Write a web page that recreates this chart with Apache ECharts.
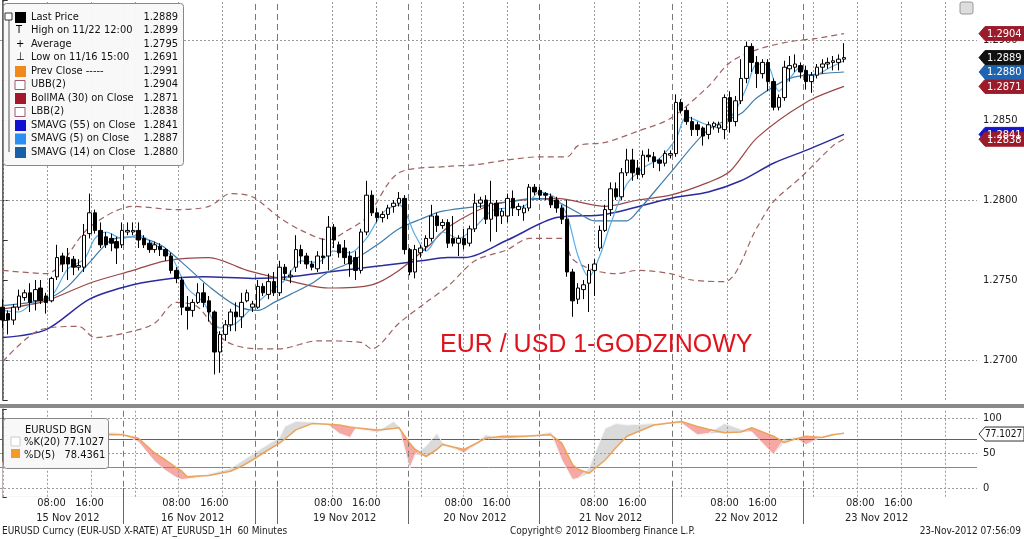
<!DOCTYPE html>
<html><head><meta charset="utf-8">
<script src="https://cdn.jsdelivr.net/npm/echarts@6/dist/echarts.min.js"></script>
<style>html,body{margin:0;padding:0;background:#fff}#c{width:1024px;height:539px}</style>
</head><body><div id="c"></div>
<script>
// ---- data ----
// candles: [open, close, low, high], hourly
const candles = [
[1.2733,1.2725,1.2720,1.2738],[1.2729,1.2725,1.2716,1.2731],[1.2725,1.2733,1.2722,1.2735],[1.2733,1.2740,1.2731,1.2744],
[1.2739,1.2742,1.2737,1.2744],[1.2742,1.2736,1.2730,1.2748],[1.2737,1.2744,1.2731,1.2750],[1.2745,1.2737,1.2735,1.2750],
[1.2740,1.2736,1.2729,1.2742],[1.2737,1.2751,1.2736,1.2752],[1.2752,1.2764,1.2750,1.2772],[1.2765,1.2760,1.2755,1.2767],
[1.2764,1.2760,1.2750,1.2770],[1.2763,1.2758,1.2753,1.2765],[1.2758,1.2759,1.2756,1.2763],[1.2758,1.2778,1.2755,1.2785],
[1.2779,1.2792,1.2776,1.2804],[1.2792,1.2781,1.2779,1.2794],[1.2781,1.2772,1.2770,1.2786],[1.2777,1.2772,1.2770,1.2780],
[1.2776,1.2773,1.2768,1.2779],[1.2774,1.2770,1.2760,1.2777],[1.2772,1.2781,1.2770,1.2786],[1.2780,1.2781,1.2778,1.2786],
[1.2780,1.2781,1.2778,1.2786],[1.2781,1.2775,1.2770,1.2786],[1.2776,1.2772,1.2770,1.2778],[1.2773,1.2769,1.2767,1.2775],
[1.2769,1.2772,1.2767,1.2774],[1.2771,1.2769,1.2765,1.2773],[1.2769,1.2765,1.2762,1.2770],[1.2765,1.2756,1.2754,1.2767],
[1.2756,1.2751,1.2748,1.2758],[1.2750,1.2733,1.2728,1.2752],[1.2733,1.2731,1.2719,1.2740],[1.2731,1.2736,1.2727,1.2738],
[1.2736,1.2742,1.2735,1.2748],[1.2742,1.2736,1.2733,1.2748],[1.2737,1.2730,1.2724,1.2740],[1.2730,1.2705,1.2691,1.2731],
[1.2705,1.2716,1.2692,1.2718],[1.2716,1.2722,1.2712,1.2725],[1.2722,1.2730,1.2718,1.2732],[1.2730,1.2727,1.2718,1.2736],
[1.2727,1.2736,1.2720,1.2742],[1.2737,1.2742,1.2736,1.2744],[1.2733,1.2735,1.2730,1.2737],[1.2733,1.2746,1.2732,1.2750],
[1.2746,1.2742,1.2740,1.2748],[1.2741,1.2749,1.2738,1.2754],[1.2749,1.2742,1.2740,1.2755],[1.2742,1.2758,1.2740,1.2762],
[1.2758,1.2754,1.2750,1.2760],[1.2752,1.2753,1.2748,1.2756],[1.2758,1.2769,1.2755,1.2778],[1.2769,1.2765,1.2760,1.2772],
[1.2765,1.2760,1.2757,1.2767],[1.2760,1.2758,1.2756,1.2762],[1.2757,1.2765,1.2755,1.2768],[1.2765,1.2764,1.2760,1.2776],
[1.2765,1.2783,1.2756,1.2790],[1.2783,1.2775,1.2770,1.2785],[1.2772,1.2767,1.2764,1.2774],[1.2770,1.2764,1.2760,1.2775],
[1.2765,1.2760,1.2752,1.2768],[1.2764,1.2756,1.2750,1.2768],[1.2756,1.2780,1.2754,1.2782],[1.2780,1.2803,1.2778,1.2812],
[1.2803,1.2792,1.2790,1.2806],[1.2792,1.2789,1.2786,1.2795],[1.2789,1.2791,1.2786,1.2793],[1.2791,1.2795,1.2788,1.2797],
[1.2796,1.2798,1.2792,1.2800],[1.2798,1.2801,1.2796,1.2805],[1.2801,1.2769,1.2766,1.2803],[1.2769,1.2755,1.2753,1.2770],
[1.2755,1.2769,1.2751,1.2772],[1.2767,1.2770,1.2764,1.2772],[1.2771,1.2776,1.2768,1.2778],[1.2776,1.2790,1.2774,1.2797],
[1.2790,1.2784,1.2780,1.2792],[1.2784,1.2786,1.2782,1.2788],[1.2786,1.2773,1.2770,1.2788],[1.2776,1.2773,1.2771,1.2790],
[1.2773,1.2776,1.2765,1.2778],[1.2776,1.2772,1.2769,1.2782],[1.2773,1.2782,1.2771,1.2784],[1.2782,1.2798,1.2780,1.2804],
[1.2798,1.2800,1.2795,1.2802],[1.2800,1.2788,1.2785,1.2803],[1.2788,1.2798,1.2774,1.2812],[1.2798,1.2790,1.2780,1.2800],
[1.2790,1.2793,1.2785,1.2795],[1.2790,1.2801,1.2786,1.2804],[1.2801,1.2795,1.2790,1.2806],[1.2794,1.2796,1.2790,1.2798],
[1.2792,1.2795,1.2787,1.2797],[1.2795,1.2808,1.2793,1.2810],[1.2808,1.2805,1.2803,1.2810],[1.2806,1.2803,1.2800,1.2808],
[1.2804,1.2803,1.2800,1.2805],[1.2802,1.2797,1.2795,1.2804],[1.2800,1.2795,1.2792,1.2802],[1.2795,1.2788,1.2785,1.2797],
[1.2788,1.2755,1.2752,1.2800],[1.2755,1.2737,1.2727,1.2757],[1.2738,1.2745,1.2735,1.2748],[1.2744,1.2747,1.2738,1.2750],
[1.2748,1.2756,1.2730,1.2760],[1.2756,1.2760,1.2740,1.2763],[1.2770,1.2781,1.2768,1.2784],[1.2781,1.2794,1.2780,1.2797],
[1.2794,1.2807,1.2790,1.2811],[1.2807,1.2802,1.2800,1.2811],[1.2802,1.2817,1.2800,1.2820],[1.2817,1.2825,1.2815,1.2832],
[1.2825,1.2817,1.2812,1.2832],[1.2820,1.2816,1.2813,1.2825],[1.2816,1.2828,1.2814,1.2831],[1.2828,1.2827,1.2824,1.2832],
[1.2827,1.2824,1.2820,1.2830],[1.2825,1.2823,1.2818,1.2826],[1.2823,1.2829,1.2821,1.2831],[1.2828,1.2829,1.2826,1.2831],
[1.2829,1.2861,1.2827,1.2866],[1.2861,1.2856,1.2854,1.2863],[1.2856,1.2849,1.2847,1.2858],[1.2849,1.2844,1.2840,1.2852],
[1.2847,1.2844,1.2840,1.2849],[1.2845,1.2840,1.2834,1.2846],[1.2841,1.2847,1.2838,1.2849],[1.2846,1.2848,1.2844,1.2849],
[1.2845,1.2847,1.2842,1.2849],[1.2844,1.2864,1.2838,1.2866],[1.2864,1.2849,1.2842,1.2868],[1.2849,1.2862,1.2846,1.2865],
[1.2862,1.2876,1.2860,1.2888],[1.2876,1.2896,1.2873,1.2899],[1.2896,1.2886,1.2880,1.2898],[1.2886,1.2879,1.2870,1.2890],
[1.2879,1.2886,1.2876,1.2888],[1.2886,1.2874,1.2868,1.2888],[1.2874,1.2858,1.2856,1.2876],[1.2858,1.2864,1.2856,1.2866],
[1.2864,1.2883,1.2862,1.2887],[1.2882,1.2884,1.2874,1.2890],[1.2883,1.2885,1.2880,1.2891],[1.2884,1.2880,1.2876,1.2886],
[1.2881,1.2874,1.2869,1.2884],[1.2874,1.2878,1.2867,1.2880],[1.2878,1.2883,1.2876,1.2885],[1.2883,1.2885,1.2879,1.2888],
[1.2885,1.2886,1.2882,1.2889],[1.2886,1.2887,1.2881,1.2890],[1.2886,1.2888,1.2881,1.2891],[1.2888,1.2889,1.2886,1.2898]
];
const slotCount = 180;
const sma55 = [[0,1.2714],[8,1.2719],[16,1.2738],[24,1.2747],[31,1.2751],[37,1.2752],[46,1.2751],[53,1.2752],[60,1.2755],[70,1.2759],[77,1.2762],[82,1.2764],[85,1.2764],[93,1.2775],[102,1.2789],[111,1.2791],[123,1.2801],[130,1.2805],[136,1.2812],[142,1.2823],[148,1.2831],[155,1.2841]];
const bollMA = [[0,1.2732],[8,1.2737],[16,1.2748],[24,1.2756],[30,1.2762],[38,1.2764],[45,1.2756],[51,1.2751],[60,1.2745],[68,1.2747],[73,1.2756],[79,1.2773],[82,1.2783],[90,1.2797],[96,1.2800],[102,1.2801],[111,1.2796],[117,1.2800],[123,1.2803],[130,1.2811],[134,1.2818],[139,1.2839],[148,1.2861],[155,1.2871]];
const ubb = [[0,1.2756],[8,1.2754],[16,1.2783],[24,1.2796],[32,1.2794],[38,1.2796],[42,1.2804],[46,1.2802],[51,1.2789],[55,1.2781],[60,1.2775],[63,1.2780],[67,1.2789],[73,1.2817],[82,1.2821],[87,1.2822],[93,1.2825],[99,1.2827],[104,1.2827],[106,1.2834],[111,1.2836],[117,1.2843],[123,1.2851],[130,1.2871],[134,1.2886],[139,1.2894],[145,1.2899],[150,1.2901],[155,1.2904]];
const lbb = [[0,1.2699],[7,1.2719],[14,1.2721],[17,1.2714],[24,1.2718],[28,1.2723],[32,1.2736],[36,1.2733],[41,1.2712],[47,1.2707],[51,1.2707],[58,1.2712],[66,1.2711],[68,1.2707],[73,1.2723],[78,1.2736],[82,1.2746],[87,1.2762],[93,1.2769],[97,1.2776],[103,1.2776],[105,1.2763],[109,1.2756],[113,1.2754],[117,1.2756],[123,1.2754],[127,1.2750],[133,1.2749],[139,1.2783],[142,1.2799],[147,1.2814],[153,1.2834],[155,1.2838]];
const sma14 = [[0,1.2734],[8,1.2738],[12,1.2746],[16,1.2761],[20,1.2775],[24,1.2777],[29,1.2772],[33,1.2761],[38,1.2746],[43,1.2734],[47,1.2731],[50,1.2736],[53,1.2741],[57,1.2748],[60,1.2755],[64,1.2761],[69,1.2772],[73,1.2782],[77,1.2788],[81,1.2793],[90,1.2797],[98,1.2801],[102,1.2799],[106,1.2792],[109,1.2787],[115,1.2787],[117,1.2793],[123,1.2817],[130,1.2844],[136,1.2854],[139,1.2864],[145,1.2876],[151,1.2879],[155,1.2880]];
const sma5 = [[0,1.2731],[3,1.2730],[6,1.2737],[9,1.2740],[12,1.2757],[15,1.2763],[17,1.2776],[19,1.2780],[22,1.2776],[25,1.2778],[28,1.2772],[31,1.2765],[34,1.2745],[37,1.2736],[40,1.2720],[43,1.2723],[46,1.2733],[49,1.2742],[52,1.2750],[55,1.2762],[58,1.2761],[61,1.2768],[64,1.2767],[67,1.2776],[70,1.2792],[73,1.2797],[76,1.2778],[78,1.2768],[81,1.2780],[84,1.2776],[87,1.2783],[90,1.2793],[93,1.2795],[96,1.2796],[99,1.2805],[102,1.2801],[104,1.2790],[106,1.2765],[108,1.2752],[110,1.2765],[112,1.2785],[115,1.2810],[118,1.2820],[121,1.2826],[124,1.2838],[126,1.2852],[129,1.2848],[132,1.2845],[135,1.2856],[137,1.2870],[139,1.2885],[141,1.2884],[143,1.2868],[145,1.2876],[147,1.2883],[149,1.2877],[152,1.2882],[155,1.2887]];
const stochIdx = [0,4,7,9,11,13,15,19,22,25,28,30,32,33,34,36,38,42,44,46,48,51,52,54,57,60,62,64,65,69,72,73,75,76,78,80,81,85,89,92,96,101,103,105,106,108,111,113,115,120,125,128,130,133,136,138,142,144,146,148,151,153,155];
const stochD = [38,39,40,45,50,57,64,76,76,71,50,40,29,24,16,17,18,24,31,40,50,64,70,83,92,91,90,87,86,83,85,86,64,55,45,55,62,55,71,74,74,76,64,33,27,21,40,58,74,90,95,88,84,79,80,86,74,65,70,74,72,76,78.4];
const stochK = [36,42,46,55,56,63,70,80,78,66,38,25,15,12,13,15,20,28,38,48,58,72,88,95,94,90,78,72,85,80,95,88,28,48,60,78,65,50,76,70,72,80,40,12,14,28,85,92,90,92,93,76,78,92,84,80,48,70,72,62,74,78,77.1];
const priceTicks = [1.2700,1.2750,1.2800,1.2850,1.2900];
const gridIdx = [0.05,8.2,16.3,24.4,32.3,40.4,60.8,68.9,77.2,84.8,92.9,108.9,117.2,125.1,133.4,141.3,149.4,157.5,165.6,173.7];
const dayIdx = [22.2,46.6,50.5,74.8,98.9,123.3,147.4];
const hourLabels = {9:'08:00',16:'16:00',32:'08:00',39:'16:00',60:'08:00',67:'16:00',84:'08:00',91:'16:00',109:'08:00',116:'16:00',133:'08:00',140:'16:00',158:'08:00',165:'16:00'};
const dateLabels = {12:'15 Nov 2012',35:'16 Nov 2012',63:'19 Nov 2012',87:'20 Nov 2012',112:'21 Nov 2012',137:'22 Nov 2012',161:'23 Nov 2012'};
const flags = [[1.2841,'#1515c8'],[1.2838,'#9b1b2a'],[1.2871,'#9b1b2a'],[1.2880,'#1f64b0'],[1.2889,'#111111'],[1.2904,'#9b1b2a']];
const stochFlag = 77.1027;
const legendRows = [
 ['Last Price','1.2889','#000','sq'],['High on 11/22 12:00','1.2899','#000','T'],['Average','1.2795','#000','+'],
 ['Low on 11/16 15:00','1.2691','#000','L'],['Prev Close -----','1.2991','#f08a1c','sq'],['UBB(2)','1.2904','#a05a6a','box'],
 ['BollMA (30) on Close','1.2871','#a0182a','sq'],['LBB(2)','1.2838','#a05a6a','box'],['SMAVG (55) on Close','1.2841','#1010d0','sq'],
 ['SMAVG (5) on Close','1.2887','#2a8ff0','sq'],['SMAVG (14) on Close','1.2880','#1a5ea8','sq']];

// ---- chart ----
const FONT = 'DejaVu Sans Condensed';
const cats = Array.from({length: slotCount}, (_, i) => String(i));
const W = 977;
const kPts = stochIdx.map((x, j) => [x, stochK[j]]);
const dPts = stochIdx.map((x, j) => [x, stochD[j]]);
const minPts = stochIdx.map((x, j) => [x, Math.min(stochK[j], stochD[j])]);
const vLines = (color) => [
  ...gridIdx.map(v => ({xAxis: v, lineStyle: {color: '#9a9a9a', type: [2, 2], width: 1}})),
  ...dayIdx.map(v => ({xAxis: v, lineStyle: {color: color, type: [6, 4], width: 1}}))
];
const line = (data, color, width, dashed) => ({
  type: 'line', xAxisIndex: 1, yAxisIndex: 0, data, symbol: 'none', silent: true, smooth: 0.3,
  lineStyle: {color, width, type: dashed ? [6, 4] : 'solid'}, z: 3
});
const isMajor = v => Math.abs(Math.round(v / 0.005) * 0.005 - v) < 1e-7;

const graphic = [];
graphic.push({type:'rect', shape:{x:3.5,y:3.5,width:180,height:162,r:3}, style:{fill:'rgba(248,248,248,0.97)', stroke:'#888', lineWidth:1}, z:50});
legendRows.forEach((r, j) => {
  const y = 17 + j * 13.5;
  let icon;
  if (r[3] === 'sq') icon = {type:'rect', shape:{x:15,y:y-5,width:11,height:11}, style:{fill:r[2]}};
  else if (r[3] === 'box') icon = {type:'rect', shape:{x:15,y:y-4,width:10,height:9}, style:{fill:'#fff', stroke:r[2], lineWidth:1}};
  else icon = {type:'text', style:{x:16,y:y,text:r[3]==='T'?'T':(r[3]==='L'?'⊥':'+'), font:'11px '+FONT, fill:'#000', verticalAlign:'middle'}};
  icon.z = 51; graphic.push(icon);
  graphic.push({type:'text', z:51, style:{x:31, y:y, text:r[0], font:'11px '+FONT, fill:'#111', verticalAlign:'middle'}});
  graphic.push({type:'text', z:51, style:{x:178, y:y, text:r[1], font:'11px '+FONT, fill:'#111', align:'right', verticalAlign:'middle'}});
});
graphic.push({type:'line', z:51, shape:{x1:9,y1:13,x2:9,y2:152}, style:{stroke:'#555', lineWidth:1}});
graphic.push({type:'rect', z:51, shape:{x:5,y:13,width:7,height:7}, style:{fill:'#fff', stroke:'#333'}});
graphic.push({type:'rect', shape:{x:3.5,y:418.5,width:105,height:50,r:3}, style:{fill:'rgba(248,248,248,0.97)', stroke:'#888'}, z:50});
graphic.push({type:'text', z:51, style:{x:25,y:430,text:'EURUSD BGN',font:'11px '+FONT,fill:'#111',verticalAlign:'middle'}});
graphic.push({type:'rect', z:51, shape:{x:11,y:437,width:9,height:9}, style:{fill:'#fff',stroke:'#ccc'}});
graphic.push({type:'text', z:51, style:{x:24,y:442,text:'%K(20) 77.1027',font:'11px '+FONT,fill:'#111',verticalAlign:'middle'}});
graphic.push({type:'rect', z:51, shape:{x:11,y:449,width:9,height:9}, style:{fill:'#f39a2a'}});
graphic.push({type:'text', z:51, style:{x:24,y:455,text:'%D(5)   78.4361',font:'11px '+FONT,fill:'#111',verticalAlign:'middle'}});
graphic.push({type:'rect', shape:{x:0,y:404,width:1024,height:4}, style:{fill:'#8a8a8a'}, z:40});
graphic.push({type:'text', style:{x:440,y:345,text:'EUR / USD 1-GODZINOWY',font:'25px "Liberation Sans"',fill:'#e0141e',verticalAlign:'middle'}, z:30});
graphic.push({type:'rect', shape:{x:960,y:2,width:13,height:12,r:2}, style:{fill:'#ddd',stroke:'#999'}, z:30});
graphic.push({type:'text', style:{x:2,y:531,text:'EURUSD Curncy (EUR-USD X-RATE) AT_EURUSD_1H  60 Minutes',font:'10px '+FONT,fill:'#222',verticalAlign:'middle'}});
graphic.push({type:'text', style:{x:510,y:531,text:'Copyright© 2012 Bloomberg Finance L.P.',font:'10px '+FONT,fill:'#222',verticalAlign:'middle'}});
graphic.push({type:'text', style:{x:1021,y:531,text:'23-Nov-2012 07:56:09',font:'10px '+FONT,fill:'#222',align:'right',verticalAlign:'middle'}});

const option = {
  animation: false,
  backgroundColor: '#fff',
  textStyle: {fontFamily: FONT},
  grid: [
    {left: 0, top: 0, width: W, height: 400},
    {left: 0, top: 409.25, width: W, height: 87.5},
    {left: 0, top: 492, width: W, height: 1},
    {left: 0, top: 488, width: W, height: 36}
  ],
  xAxis: [
    {type:'category', gridIndex:0, data:cats, show:false},
    {type:'value', gridIndex:0, min:-0.5, max:slotCount-0.5, show:false},
    {type:'value', gridIndex:1, min:-0.5, max:slotCount-0.5, show:false},
    {type:'category', gridIndex:2, data:cats, position:'bottom', axisLine:{show:false}, axisTick:{show:false},
     axisLabel:{interval:(i)=>hourLabels[i]!==undefined, formatter:(v)=>hourLabels[v]||'', fontSize:11, color:'#222', margin:5}},
    {type:'category', gridIndex:2, data:cats, position:'bottom', offset:15, axisLine:{show:false}, axisTick:{show:false},
     axisLabel:{interval:(i)=>dateLabels[i]!==undefined, formatter:(v)=>dateLabels[v]||'', fontSize:11, color:'#222', margin:5}},
    {type:'value', gridIndex:3, min:-0.5, max:slotCount-0.5, show:false}
  ],
  yAxis: [
    {type:'value', gridIndex:0, position:'right', min:1.2675, max:1.2925, interval:0.0025, scale:true,
     splitLine:{show:false}, axisLine:{show:true, lineStyle:{color:'#333', width:1.5}},
     axisTick:{show:true, length:5, lineStyle:{color:'#333'}},
     axisLabel:{formatter:(v)=>isMajor(v)?v.toFixed(4):'', color:'#222', fontSize:11, margin:6}},
    {type:'value', gridIndex:1, position:'right', min:-12.5, max:112.5, interval:12.5,
     splitLine:{show:false}, axisLine:{show:true, lineStyle:{color:'#333', width:1.5}},
     axisTick:{show:true, length:4, lineStyle:{color:'#333'}},
     axisLabel:{formatter:(v)=>(v===0||v===50||v===100)?String(v):'', color:'#222', fontSize:11, margin:6}},
    {type:'value', gridIndex:2, show:false},
    {type:'value', gridIndex:3, show:false, min:0, max:1}
  ],
  graphic,
  series: [
    {type:'candlestick', xAxisIndex:0, yAxisIndex:0, data:candles, barWidth:4, z:5,
     itemStyle:{color:'#fff', color0:'#000', borderColor:'#000', borderColor0:'#000', borderWidth:1}},
    Object.assign(line(sma55, '#2b2ba0', 1.5), {
      markLine:{symbol:'none', silent:true, label:{show:false}, z:1, data:[
        ...vLines('#777'),
        ...priceTicks.map(v => ({yAxis:v, lineStyle:{color:'#9a9a9a', type:[2,2], width:1}}))
      ]}}),
    line(bollMA, '#9a4646', 1.2),
    line(ubb, '#a06262', 1.2, true),
    line(lbb, '#a06262', 1.2, true),
    line(sma14, '#3f7cab', 1.2),
    line(sma5, '#5aaeea', 1.2),
    {type:'line', xAxisIndex:2, yAxisIndex:1, data:dPts, symbol:'none', lineStyle:{opacity:0}, areaStyle:{color:'#f6a9a4', opacity:1, origin:'start'}, silent:true, z:1},
    {type:'line', xAxisIndex:2, yAxisIndex:1, data:kPts, symbol:'none', lineStyle:{opacity:0}, areaStyle:{color:'#dadada', opacity:1, origin:'start'}, silent:true, z:1},
    {type:'line', xAxisIndex:2, yAxisIndex:1, data:minPts, symbol:'none', lineStyle:{opacity:0}, areaStyle:{color:'#ffffff', opacity:1, origin:'start'}, silent:true, z:1},
    {type:'line', xAxisIndex:2, yAxisIndex:1, data:kPts, symbol:'none', lineStyle:{color:'#f4f4f4', width:1}, silent:true, z:3,
     markLine:{symbol:'none', silent:true, label:{show:false}, z:2, data:[
       ...vLines('#777'),
       ...[0,50,100].map(v => ({yAxis:v, lineStyle:{color:'#9a9a9a', type:[2,2], width:1}})),
       {yAxis:70, lineStyle:{color:'#c0392b', type:'solid', width:1}},
       {yAxis:30, lineStyle:{color:'#3cbf3c', type:'solid', width:1}}
     ]}},
    {type:'line', xAxisIndex:2, yAxisIndex:1, data:dPts, symbol:'none', lineStyle:{color:'#eea35a', width:1.5}, silent:true, z:4},
    {type:'line', xAxisIndex:5, yAxisIndex:3, data:[[0,-1]], symbol:'none', silent:true,
     markLine:{symbol:'none', silent:true, label:{show:false}, data: dayIdx.map(v => ({xAxis:v, lineStyle:{color:'#666', type:'solid', width:1}}))}}
  ]
};
const chart = echarts.init(document.getElementById('c'), null, {renderer:'canvas'});
chart.setOption(option);

// value tags on the right axes, positioned through the axes' own scales
const tag = (y, bg, fg, text, border, size) => ([
  {type:'polygon', z:60, shape:{points:[[979,y],[985,y-7],[1024,y-7],[1024,y+7],[985,y+7]]},
   style:{fill:bg, stroke:border || bg, lineWidth:1}},
  {type:'text', z:61, style:{x:size ? 985 : 987, y:y+0.5, text:text, font:(size||11)+'px '+FONT, fill:fg, verticalAlign:'middle'}}
]);
const extra = [];
flags.forEach(f => {
  const y = chart.convertToPixel({yAxisIndex:0}, f[0]);
  extra.push(...tag(y, f[1], '#fff', f[0].toFixed(4)));
});
const ys = chart.convertToPixel({yAxisIndex:1}, stochFlag);
extra.push(...tag(ys, '#fff', '#111', stochFlag.toFixed(4), '#333', 10));
chart.setOption({graphic: graphic.concat(extra)}, {replaceMerge:['graphic']});
</script></body></html>
